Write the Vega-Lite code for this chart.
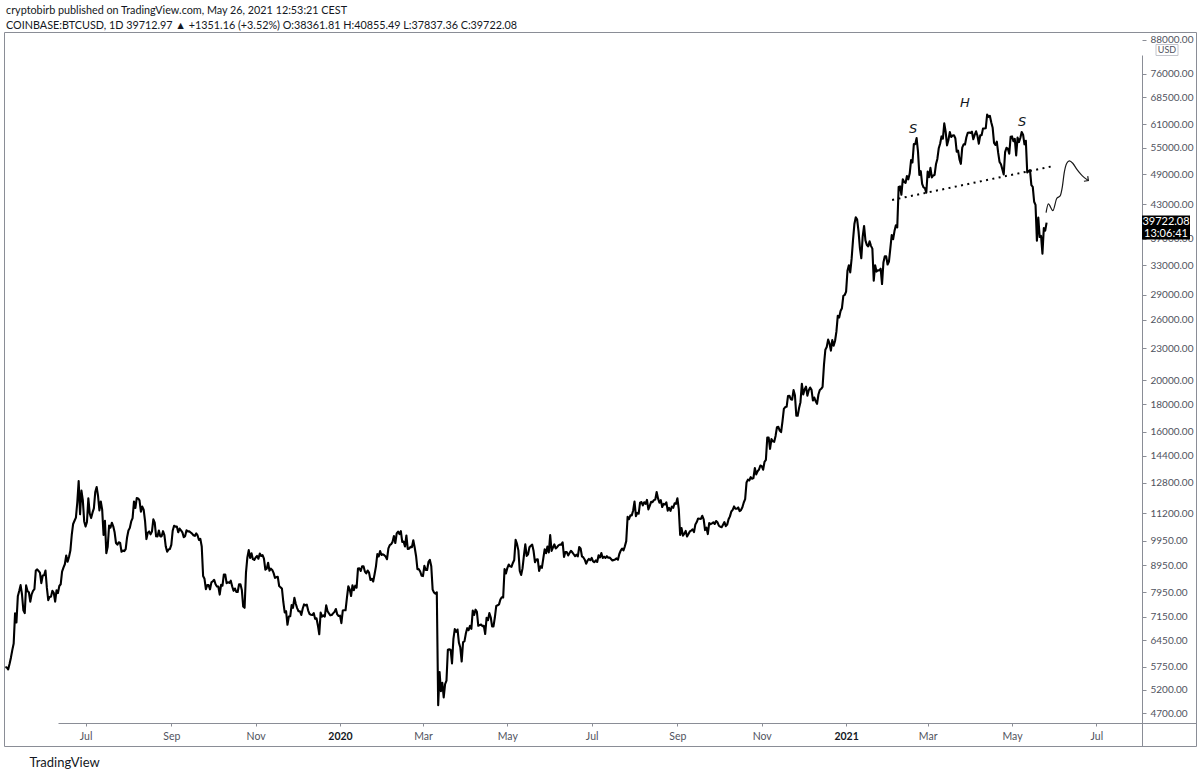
{
  "$schema": "https://vega.github.io/schema/vega-lite/v6.json",
  "width": 1192,
  "height": 714,
  "autosize": "none",
  "padding": {"left": 4, "top": 32, "right": 4, "bottom": 31},
  "background": "white",
  "config": {
    "font": "Lato",
    "view": {"stroke": "#8a8d96", "strokeWidth": 1}
  },
  "title": {
    "text": "cryptobirb published on TradingView.com, May 26, 2021 12:53:21 CEST",
    "subtitle": "COINBASE:BTCUSD, 1D  39712.97 ▲ +1351.16 (+3.52%) O:38361.81 H:40855.49 L:37837.36 C:39722.08",
    "anchor": "start",
    "frame": "group",
    "offset": 1,
    "dx": 2,
    "font": "Lato",
    "fontSize": 10.8,
    "fontWeight": "normal",
    "color": "#131722",
    "subtitleFont": "Lato",
    "subtitleFontSize": 10.8,
    "subtitleColor": "#131722",
    "subtitlePadding": 4
  },
  "datasets": {
    "btc": [
      {"t":"2019-05-04","c":5740},{"t":"2019-05-05","c":5730},{"t":"2019-05-06","c":5680},{"t":"2019-05-07","c":5820},{"t":"2019-05-08","c":5980},{"t":"2019-05-09","c":6180},{"t":"2019-05-10","c":6360},{"t":"2019-05-11","c":7250},{"t":"2019-05-12","c":6970},{"t":"2019-05-13","c":7810},{"t":"2019-05-14","c":7990},{"t":"2019-05-15","c":8200},{"t":"2019-05-16","c":7880},{"t":"2019-05-17","c":7350},{"t":"2019-05-18","c":7260},{"t":"2019-05-19","c":8190},{"t":"2019-05-20","c":7990},{"t":"2019-05-21","c":7950},{"t":"2019-05-22","c":7630},{"t":"2019-05-23","c":7880},{"t":"2019-05-24","c":8000},{"t":"2019-05-25","c":8060},{"t":"2019-05-26","c":8740},{"t":"2019-05-27","c":8780},{"t":"2019-05-28","c":8720},{"t":"2019-05-29","c":8660},{"t":"2019-05-30","c":8270},{"t":"2019-05-31","c":8550},
      {"t":"2019-06-01","c":8560},{"t":"2019-06-02","c":8740},{"t":"2019-06-03","c":8110},{"t":"2019-06-04","c":7680},{"t":"2019-06-05","c":7790},{"t":"2019-06-06","c":7800},{"t":"2019-06-07","c":8000},{"t":"2019-06-08","c":7930},{"t":"2019-06-09","c":7630},{"t":"2019-06-10","c":8020},{"t":"2019-06-11","c":7920},{"t":"2019-06-12","c":8170},{"t":"2019-06-13","c":8230},{"t":"2019-06-14","c":8700},{"t":"2019-06-15","c":8850},{"t":"2019-06-16","c":8980},{"t":"2019-06-17","c":9330},{"t":"2019-06-18","c":9080},{"t":"2019-06-19","c":9270},{"t":"2019-06-20","c":9530},{"t":"2019-06-21","c":10200},{"t":"2019-06-22","c":10700},{"t":"2019-06-23","c":10850},{"t":"2019-06-24","c":11000},{"t":"2019-06-25","c":11750},{"t":"2019-06-26","c":12900},{"t":"2019-06-27","c":11160},{"t":"2019-06-28","c":12370},{"t":"2019-06-29","c":11870},{"t":"2019-06-30","c":10820},
      {"t":"2019-07-01","c":10580},{"t":"2019-07-02","c":10800},{"t":"2019-07-03","c":11960},{"t":"2019-07-04","c":11200},{"t":"2019-07-05","c":10980},{"t":"2019-07-06","c":11240},{"t":"2019-07-07","c":11450},{"t":"2019-07-08","c":12300},{"t":"2019-07-09","c":12570},{"t":"2019-07-10","c":12100},{"t":"2019-07-11","c":11350},{"t":"2019-07-12","c":11800},{"t":"2019-07-13","c":11390},{"t":"2019-07-14","c":10200},{"t":"2019-07-15","c":10850},{"t":"2019-07-16","c":9420},{"t":"2019-07-17","c":9690},{"t":"2019-07-18","c":10630},{"t":"2019-07-19","c":10530},{"t":"2019-07-20","c":10760},{"t":"2019-07-21","c":10590},{"t":"2019-07-22","c":10320},{"t":"2019-07-23","c":9850},{"t":"2019-07-24","c":9780},{"t":"2019-07-25","c":9880},{"t":"2019-07-26","c":9850},{"t":"2019-07-27","c":9480},{"t":"2019-07-28","c":9530},{"t":"2019-07-29","c":9510},{"t":"2019-07-30","c":9590},{"t":"2019-07-31","c":10090},
      {"t":"2019-08-01","c":10400},{"t":"2019-08-02","c":10520},{"t":"2019-08-03","c":10820},{"t":"2019-08-04","c":10980},{"t":"2019-08-05","c":11800},{"t":"2019-08-06","c":11470},{"t":"2019-08-07","c":11980},{"t":"2019-08-08","c":11960},{"t":"2019-08-09","c":11860},{"t":"2019-08-10","c":11290},{"t":"2019-08-11","c":11540},{"t":"2019-08-12","c":11390},{"t":"2019-08-13","c":10850},{"t":"2019-08-14","c":10020},{"t":"2019-08-15","c":10300},{"t":"2019-08-16","c":10360},{"t":"2019-08-17","c":10230},{"t":"2019-08-18","c":10350},{"t":"2019-08-19","c":10920},{"t":"2019-08-20","c":10760},{"t":"2019-08-21","c":10140},{"t":"2019-08-22","c":10130},{"t":"2019-08-23","c":10400},{"t":"2019-08-24","c":10140},{"t":"2019-08-25","c":10140},{"t":"2019-08-26","c":10370},{"t":"2019-08-27","c":10190},{"t":"2019-08-28","c":9700},{"t":"2019-08-29","c":9480},{"t":"2019-08-30","c":9580},{"t":"2019-08-31","c":9600},
      {"t":"2019-09-01","c":9770},{"t":"2019-09-02","c":10390},{"t":"2019-09-03","c":10620},{"t":"2019-09-04","c":10580},{"t":"2019-09-05","c":10580},{"t":"2019-09-06","c":10320},{"t":"2019-09-07","c":10490},{"t":"2019-09-08","c":10410},{"t":"2019-09-09","c":10320},{"t":"2019-09-10","c":10100},{"t":"2019-09-11","c":10150},{"t":"2019-09-12","c":10410},{"t":"2019-09-13","c":10360},{"t":"2019-09-14","c":10360},{"t":"2019-09-15","c":10310},{"t":"2019-09-16","c":10260},{"t":"2019-09-17","c":10190},{"t":"2019-09-18","c":10160},{"t":"2019-09-19","c":10270},{"t":"2019-09-20","c":10180},{"t":"2019-09-21","c":9980},{"t":"2019-09-22","c":10030},{"t":"2019-09-23","c":9700},{"t":"2019-09-24","c":8530},{"t":"2019-09-25","c":8430},{"t":"2019-09-26","c":8060},{"t":"2019-09-27","c":8200},{"t":"2019-09-28","c":8200},{"t":"2019-09-29","c":8050},{"t":"2019-09-30","c":8300},
      {"t":"2019-10-01","c":8340},{"t":"2019-10-02","c":8390},{"t":"2019-10-03","c":8230},{"t":"2019-10-04","c":8150},{"t":"2019-10-05","c":8150},{"t":"2019-10-06","c":7870},{"t":"2019-10-07","c":8210},{"t":"2019-10-08","c":8180},{"t":"2019-10-09","c":8590},{"t":"2019-10-10","c":8590},{"t":"2019-10-11","c":8270},{"t":"2019-10-12","c":8300},{"t":"2019-10-13","c":8280},{"t":"2019-10-14","c":8360},{"t":"2019-10-15","c":8160},{"t":"2019-10-16","c":8000},{"t":"2019-10-17","c":8080},{"t":"2019-10-18","c":7960},{"t":"2019-10-19","c":7960},{"t":"2019-10-20","c":8230},{"t":"2019-10-21","c":8230},{"t":"2019-10-22","c":8030},{"t":"2019-10-23","c":7470},{"t":"2019-10-24","c":7430},{"t":"2019-10-25","c":8660},{"t":"2019-10-26","c":9250},{"t":"2019-10-27","c":9550},{"t":"2019-10-28","c":9230},{"t":"2019-10-29","c":9420},{"t":"2019-10-30","c":9180},{"t":"2019-10-31","c":9150},
      {"t":"2019-11-01","c":9250},{"t":"2019-11-02","c":9310},{"t":"2019-11-03","c":9200},{"t":"2019-11-04","c":9410},{"t":"2019-11-05","c":9310},{"t":"2019-11-06","c":9340},{"t":"2019-11-07","c":9200},{"t":"2019-11-08","c":8770},{"t":"2019-11-09","c":8810},{"t":"2019-11-10","c":9040},{"t":"2019-11-11","c":8730},{"t":"2019-11-12","c":8810},{"t":"2019-11-13","c":8760},{"t":"2019-11-14","c":8640},{"t":"2019-11-15","c":8460},{"t":"2019-11-16","c":8490},{"t":"2019-11-17","c":8500},{"t":"2019-11-18","c":8170},{"t":"2019-11-19","c":8120},{"t":"2019-11-20","c":8080},{"t":"2019-11-21","c":7620},{"t":"2019-11-22","c":7280},{"t":"2019-11-23","c":7320},{"t":"2019-11-24","c":6900},{"t":"2019-11-25","c":7150},{"t":"2019-11-26","c":7160},{"t":"2019-11-27","c":7520},{"t":"2019-11-28","c":7430},{"t":"2019-11-29","c":7760},{"t":"2019-11-30","c":7560},
      {"t":"2019-12-01","c":7420},{"t":"2019-12-02","c":7320},{"t":"2019-12-03","c":7320},{"t":"2019-12-04","c":7200},{"t":"2019-12-05","c":7400},{"t":"2019-12-06","c":7540},{"t":"2019-12-07","c":7510},{"t":"2019-12-08","c":7530},{"t":"2019-12-09","c":7340},{"t":"2019-12-10","c":7230},{"t":"2019-12-11","c":7210},{"t":"2019-12-12","c":7200},{"t":"2019-12-13","c":7260},{"t":"2019-12-14","c":7080},{"t":"2019-12-15","c":7100},{"t":"2019-12-16","c":6880},{"t":"2019-12-17","c":6620},{"t":"2019-12-18","c":7280},{"t":"2019-12-19","c":7150},{"t":"2019-12-20","c":7190},{"t":"2019-12-21","c":7150},{"t":"2019-12-22","c":7510},{"t":"2019-12-23","c":7320},{"t":"2019-12-24","c":7250},{"t":"2019-12-25","c":7190},{"t":"2019-12-26","c":7200},{"t":"2019-12-27","c":7250},{"t":"2019-12-28","c":7300},{"t":"2019-12-29","c":7390},{"t":"2019-12-30","c":7220},{"t":"2019-12-31","c":7170},
      {"t":"2020-01-01","c":7180},{"t":"2020-01-02","c":6950},{"t":"2020-01-03","c":7340},{"t":"2020-01-04","c":7350},{"t":"2020-01-05","c":7350},{"t":"2020-01-06","c":7760},{"t":"2020-01-07","c":8160},{"t":"2020-01-08","c":8050},{"t":"2020-01-09","c":7820},{"t":"2020-01-10","c":8190},{"t":"2020-01-11","c":8020},{"t":"2020-01-12","c":8180},{"t":"2020-01-13","c":8110},{"t":"2020-01-14","c":8810},{"t":"2020-01-15","c":8820},{"t":"2020-01-16","c":8720},{"t":"2020-01-17","c":8900},{"t":"2020-01-18","c":8900},{"t":"2020-01-19","c":8700},{"t":"2020-01-20","c":8630},{"t":"2020-01-21","c":8740},{"t":"2020-01-22","c":8660},{"t":"2020-01-23","c":8390},{"t":"2020-01-24","c":8430},{"t":"2020-01-25","c":8330},{"t":"2020-01-26","c":8600},{"t":"2020-01-27","c":8900},{"t":"2020-01-28","c":9390},{"t":"2020-01-29","c":9290},{"t":"2020-01-30","c":9510},{"t":"2020-01-31","c":9350},
      {"t":"2020-02-01","c":9380},{"t":"2020-02-02","c":9340},{"t":"2020-02-03","c":9290},{"t":"2020-02-04","c":9180},{"t":"2020-02-05","c":9620},{"t":"2020-02-06","c":9760},{"t":"2020-02-07","c":9800},{"t":"2020-02-08","c":9900},{"t":"2020-02-09","c":10150},{"t":"2020-02-10","c":9850},{"t":"2020-02-11","c":10270},{"t":"2020-02-12","c":10350},{"t":"2020-02-13","c":10240},{"t":"2020-02-14","c":10370},{"t":"2020-02-15","c":9900},{"t":"2020-02-16","c":9910},{"t":"2020-02-17","c":9700},{"t":"2020-02-18","c":10180},{"t":"2020-02-19","c":9600},{"t":"2020-02-20","c":9610},{"t":"2020-02-21","c":9690},{"t":"2020-02-22","c":9670},{"t":"2020-02-23","c":9970},{"t":"2020-02-24","c":9660},{"t":"2020-02-25","c":9310},{"t":"2020-02-26","c":8790},{"t":"2020-02-27","c":8790},{"t":"2020-02-28","c":8700},{"t":"2020-02-29","c":8540},
      {"t":"2020-03-01","c":8530},{"t":"2020-03-02","c":8920},{"t":"2020-03-03","c":8760},{"t":"2020-03-04","c":8760},{"t":"2020-03-05","c":9070},{"t":"2020-03-06","c":9150},{"t":"2020-03-07","c":8900},{"t":"2020-03-08","c":8040},{"t":"2020-03-09","c":7940},{"t":"2020-03-10","c":7900},{"t":"2020-03-11","c":7950},{"t":"2020-03-12","c":4860},{"t":"2020-03-13","c":5620},{"t":"2020-03-14","c":5170},{"t":"2020-03-15","c":5360},{"t":"2020-03-16","c":5030},{"t":"2020-03-17","c":5330},{"t":"2020-03-18","c":5410},{"t":"2020-03-19","c":6190},{"t":"2020-03-20","c":6200},{"t":"2020-03-21","c":6190},{"t":"2020-03-22","c":5830},{"t":"2020-03-23","c":6480},{"t":"2020-03-24","c":6770},{"t":"2020-03-25","c":6690},{"t":"2020-03-26","c":6760},{"t":"2020-03-27","c":6380},{"t":"2020-03-28","c":6250},{"t":"2020-03-29","c":5880},{"t":"2020-03-30","c":6400},{"t":"2020-03-31","c":6420},
      {"t":"2020-04-01","c":6640},{"t":"2020-04-02","c":6800},{"t":"2020-04-03","c":6740},{"t":"2020-04-04","c":6870},{"t":"2020-04-05","c":6780},{"t":"2020-04-06","c":7340},{"t":"2020-04-07","c":7200},{"t":"2020-04-08","c":7370},{"t":"2020-04-09","c":7300},{"t":"2020-04-10","c":6870},{"t":"2020-04-11","c":6890},{"t":"2020-04-12","c":6910},{"t":"2020-04-13","c":6860},{"t":"2020-04-14","c":6870},{"t":"2020-04-15","c":6630},{"t":"2020-04-16","c":7110},{"t":"2020-04-17","c":7040},{"t":"2020-04-18","c":7260},{"t":"2020-04-19","c":7130},{"t":"2020-04-20","c":6850},{"t":"2020-04-21","c":6850},{"t":"2020-04-22","c":7130},{"t":"2020-04-23","c":7490},{"t":"2020-04-24","c":7510},{"t":"2020-04-25","c":7540},{"t":"2020-04-26","c":7700},{"t":"2020-04-27","c":7780},{"t":"2020-04-28","c":7770},{"t":"2020-04-29","c":8790},{"t":"2020-04-30","c":8630},
      {"t":"2020-05-01","c":8830},{"t":"2020-05-02","c":8970},{"t":"2020-05-03","c":8900},{"t":"2020-05-04","c":8880},{"t":"2020-05-05","c":9030},{"t":"2020-05-06","c":9150},{"t":"2020-05-07","c":9990},{"t":"2020-05-08","c":9810},{"t":"2020-05-09","c":9540},{"t":"2020-05-10","c":8720},{"t":"2020-05-11","c":8570},{"t":"2020-05-12","c":8820},{"t":"2020-05-13","c":9320},{"t":"2020-05-14","c":9790},{"t":"2020-05-15","c":9310},{"t":"2020-05-16","c":9380},{"t":"2020-05-17","c":9670},{"t":"2020-05-18","c":9730},{"t":"2020-05-19","c":9780},{"t":"2020-05-20","c":9510},{"t":"2020-05-21","c":9060},{"t":"2020-05-22","c":9170},{"t":"2020-05-23","c":9180},{"t":"2020-05-24","c":8720},{"t":"2020-05-25","c":8900},{"t":"2020-05-26","c":8840},{"t":"2020-05-27","c":9200},{"t":"2020-05-28","c":9580},{"t":"2020-05-29","c":9420},{"t":"2020-05-30","c":9700},{"t":"2020-05-31","c":9450},
      {"t":"2020-06-01","c":10200},{"t":"2020-06-02","c":9520},{"t":"2020-06-03","c":9660},{"t":"2020-06-04","c":9790},{"t":"2020-06-05","c":9620},{"t":"2020-06-06","c":9670},{"t":"2020-06-07","c":9750},{"t":"2020-06-08","c":9780},{"t":"2020-06-09","c":9780},{"t":"2020-06-10","c":9880},{"t":"2020-06-11","c":9270},{"t":"2020-06-12","c":9470},{"t":"2020-06-13","c":9470},{"t":"2020-06-14","c":9330},{"t":"2020-06-15","c":9430},{"t":"2020-06-16","c":9520},{"t":"2020-06-17","c":9460},{"t":"2020-06-18","c":9380},{"t":"2020-06-19","c":9300},{"t":"2020-06-20","c":9360},{"t":"2020-06-21","c":9290},{"t":"2020-06-22","c":9680},{"t":"2020-06-23","c":9620},{"t":"2020-06-24","c":9290},{"t":"2020-06-25","c":9250},{"t":"2020-06-26","c":9160},{"t":"2020-06-27","c":9000},{"t":"2020-06-28","c":9120},{"t":"2020-06-29","c":9190},{"t":"2020-06-30","c":9140},
      {"t":"2020-07-01","c":9230},{"t":"2020-07-02","c":9090},{"t":"2020-07-03","c":9060},{"t":"2020-07-04","c":9130},{"t":"2020-07-05","c":9070},{"t":"2020-07-06","c":9340},{"t":"2020-07-07","c":9250},{"t":"2020-07-08","c":9430},{"t":"2020-07-09","c":9230},{"t":"2020-07-10","c":9280},{"t":"2020-07-11","c":9230},{"t":"2020-07-12","c":9300},{"t":"2020-07-13","c":9240},{"t":"2020-07-14","c":9250},{"t":"2020-07-15","c":9190},{"t":"2020-07-16","c":9130},{"t":"2020-07-17","c":9150},{"t":"2020-07-18","c":9170},{"t":"2020-07-19","c":9210},{"t":"2020-07-20","c":9160},{"t":"2020-07-21","c":9390},{"t":"2020-07-22","c":9530},{"t":"2020-07-23","c":9610},{"t":"2020-07-24","c":9540},{"t":"2020-07-25","c":9710},{"t":"2020-07-26","c":9930},{"t":"2020-07-27","c":11040},{"t":"2020-07-28","c":10930},{"t":"2020-07-29","c":11110},{"t":"2020-07-30","c":11110},{"t":"2020-07-31","c":11350},
      {"t":"2020-08-01","c":11800},{"t":"2020-08-02","c":11070},{"t":"2020-08-03","c":11230},{"t":"2020-08-04","c":11190},{"t":"2020-08-05","c":11740},{"t":"2020-08-06","c":11770},{"t":"2020-08-07","c":11600},{"t":"2020-08-08","c":11760},{"t":"2020-08-09","c":11680},{"t":"2020-08-10","c":11880},{"t":"2020-08-11","c":11400},{"t":"2020-08-12","c":11580},{"t":"2020-08-13","c":11780},{"t":"2020-08-14","c":11770},{"t":"2020-08-15","c":11870},{"t":"2020-08-16","c":11900},{"t":"2020-08-17","c":12300},{"t":"2020-08-18","c":11960},{"t":"2020-08-19","c":11740},{"t":"2020-08-20","c":11870},{"t":"2020-08-21","c":11520},{"t":"2020-08-22","c":11680},{"t":"2020-08-23","c":11650},{"t":"2020-08-24","c":11760},{"t":"2020-08-25","c":11340},{"t":"2020-08-26","c":11480},{"t":"2020-08-27","c":11330},{"t":"2020-08-28","c":11540},{"t":"2020-08-29","c":11480},{"t":"2020-08-30","c":11710},{"t":"2020-08-31","c":11680},
      {"t":"2020-09-01","c":11970},{"t":"2020-09-02","c":11410},{"t":"2020-09-03","c":10200},{"t":"2020-09-04","c":10510},{"t":"2020-09-05","c":10170},{"t":"2020-09-06","c":10260},{"t":"2020-09-07","c":10380},{"t":"2020-09-08","c":10130},{"t":"2020-09-09","c":10240},{"t":"2020-09-10","c":10360},{"t":"2020-09-11","c":10400},{"t":"2020-09-12","c":10450},{"t":"2020-09-13","c":10330},{"t":"2020-09-14","c":10680},{"t":"2020-09-15","c":10790},{"t":"2020-09-16","c":10960},{"t":"2020-09-17","c":10950},{"t":"2020-09-18","c":10940},{"t":"2020-09-19","c":11090},{"t":"2020-09-20","c":10920},{"t":"2020-09-21","c":10420},{"t":"2020-09-22","c":10530},{"t":"2020-09-23","c":10240},{"t":"2020-09-24","c":10740},{"t":"2020-09-25","c":10690},{"t":"2020-09-26","c":10730},{"t":"2020-09-27","c":10780},{"t":"2020-09-28","c":10700},{"t":"2020-09-29","c":10840},{"t":"2020-09-30","c":10780},
      {"t":"2020-10-01","c":10620},{"t":"2020-10-02","c":10570},{"t":"2020-10-03","c":10550},{"t":"2020-10-04","c":10670},{"t":"2020-10-05","c":10790},{"t":"2020-10-06","c":10600},{"t":"2020-10-07","c":10670},{"t":"2020-10-08","c":10920},{"t":"2020-10-09","c":11060},{"t":"2020-10-10","c":11300},{"t":"2020-10-11","c":11380},{"t":"2020-10-12","c":11550},{"t":"2020-10-13","c":11430},{"t":"2020-10-14","c":11430},{"t":"2020-10-15","c":11500},{"t":"2020-10-16","c":11320},{"t":"2020-10-17","c":11370},{"t":"2020-10-18","c":11510},{"t":"2020-10-19","c":11750},{"t":"2020-10-20","c":11920},{"t":"2020-10-21","c":12820},{"t":"2020-10-22","c":12980},{"t":"2020-10-23","c":12930},{"t":"2020-10-24","c":13120},{"t":"2020-10-25","c":13030},{"t":"2020-10-26","c":13070},{"t":"2020-10-27","c":13650},{"t":"2020-10-28","c":13280},{"t":"2020-10-29","c":13460},{"t":"2020-10-30","c":13560},{"t":"2020-10-31","c":13800},
      {"t":"2020-11-01","c":13760},{"t":"2020-11-02","c":13550},{"t":"2020-11-03","c":14020},{"t":"2020-11-04","c":14140},{"t":"2020-11-05","c":15590},{"t":"2020-11-06","c":15590},{"t":"2020-11-07","c":14840},{"t":"2020-11-08","c":15480},{"t":"2020-11-09","c":15330},{"t":"2020-11-10","c":15300},{"t":"2020-11-11","c":15700},{"t":"2020-11-12","c":16300},{"t":"2020-11-13","c":16330},{"t":"2020-11-14","c":16070},{"t":"2020-11-15","c":15960},{"t":"2020-11-16","c":16720},{"t":"2020-11-17","c":17660},{"t":"2020-11-18","c":17800},{"t":"2020-11-19","c":17820},{"t":"2020-11-20","c":18680},{"t":"2020-11-21","c":18700},{"t":"2020-11-22","c":18420},{"t":"2020-11-23","c":18380},{"t":"2020-11-24","c":19160},{"t":"2020-11-25","c":18740},{"t":"2020-11-26","c":17150},{"t":"2020-11-27","c":17140},{"t":"2020-11-28","c":17730},{"t":"2020-11-29","c":18180},{"t":"2020-11-30","c":19700},
      {"t":"2020-12-01","c":18800},{"t":"2020-12-02","c":19220},{"t":"2020-12-03","c":19450},{"t":"2020-12-04","c":18700},{"t":"2020-12-05","c":19150},{"t":"2020-12-06","c":19380},{"t":"2020-12-07","c":19180},{"t":"2020-12-08","c":18320},{"t":"2020-12-09","c":18550},{"t":"2020-12-10","c":18260},{"t":"2020-12-11","c":18050},{"t":"2020-12-12","c":18800},{"t":"2020-12-13","c":19170},{"t":"2020-12-14","c":19270},{"t":"2020-12-15","c":19440},{"t":"2020-12-16","c":21380},{"t":"2020-12-17","c":22840},{"t":"2020-12-18","c":23110},{"t":"2020-12-19","c":23870},{"t":"2020-12-20","c":23480},{"t":"2020-12-21","c":22750},{"t":"2020-12-22","c":23830},{"t":"2020-12-23","c":23240},{"t":"2020-12-24","c":23730},{"t":"2020-12-25","c":24710},{"t":"2020-12-26","c":26490},{"t":"2020-12-27","c":26280},{"t":"2020-12-28","c":27040},{"t":"2020-12-29","c":27370},{"t":"2020-12-30","c":28880},{"t":"2020-12-31","c":28990},
      {"t":"2021-01-01","c":29410},{"t":"2021-01-02","c":32200},{"t":"2021-01-03","c":33000},{"t":"2021-01-04","c":31990},{"t":"2021-01-05","c":33950},{"t":"2021-01-06","c":36800},{"t":"2021-01-07","c":39470},{"t":"2021-01-08","c":40670},{"t":"2021-01-09","c":40240},{"t":"2021-01-10","c":38240},{"t":"2021-01-11","c":35540},{"t":"2021-01-12","c":34010},{"t":"2021-01-13","c":37390},{"t":"2021-01-14","c":39150},{"t":"2021-01-15","c":36770},{"t":"2021-01-16","c":36030},{"t":"2021-01-17","c":35820},{"t":"2021-01-18","c":36630},{"t":"2021-01-19","c":35900},{"t":"2021-01-20","c":35470},{"t":"2021-01-21","c":30850},{"t":"2021-01-22","c":33000},{"t":"2021-01-23","c":32100},{"t":"2021-01-24","c":32290},{"t":"2021-01-25","c":32260},{"t":"2021-01-26","c":32500},{"t":"2021-01-27","c":30400},{"t":"2021-01-28","c":33400},{"t":"2021-01-29","c":34300},{"t":"2021-01-30","c":34300},{"t":"2021-01-31","c":33100},
      {"t":"2021-02-01","c":33540},{"t":"2021-02-02","c":35500},{"t":"2021-02-03","c":37640},{"t":"2021-02-04","c":36950},{"t":"2021-02-05","c":38290},{"t":"2021-02-06","c":39260},{"t":"2021-02-07","c":38900},{"t":"2021-02-08","c":46400},{"t":"2021-02-09","c":46500},{"t":"2021-02-10","c":44850},{"t":"2021-02-11","c":47970},{"t":"2021-02-12","c":47410},{"t":"2021-02-13","c":47200},{"t":"2021-02-14","c":48650},{"t":"2021-02-15","c":47950},{"t":"2021-02-16","c":49170},{"t":"2021-02-17","c":52150},{"t":"2021-02-18","c":51600},{"t":"2021-02-19","c":55900},{"t":"2021-02-20","c":55900},{"t":"2021-02-21","c":57400},{"t":"2021-02-22","c":54100},{"t":"2021-02-23","c":48900},{"t":"2021-02-24","c":49700},{"t":"2021-02-25","c":47000},{"t":"2021-02-26","c":46300},{"t":"2021-02-27","c":46150},{"t":"2021-02-28","c":45240},
      {"t":"2021-03-01","c":49600},{"t":"2021-03-02","c":48400},{"t":"2021-03-03","c":50400},{"t":"2021-03-04","c":48370},{"t":"2021-03-05","c":48770},{"t":"2021-03-06","c":48880},{"t":"2021-03-07","c":51200},{"t":"2021-03-08","c":52400},{"t":"2021-03-09","c":54900},{"t":"2021-03-10","c":56000},{"t":"2021-03-11","c":57800},{"t":"2021-03-12","c":57250},{"t":"2021-03-13","c":61200},{"t":"2021-03-14","c":59000},{"t":"2021-03-15","c":55600},{"t":"2021-03-16","c":56900},{"t":"2021-03-17","c":58900},{"t":"2021-03-18","c":57650},{"t":"2021-03-19","c":58050},{"t":"2021-03-20","c":58100},{"t":"2021-03-21","c":57350},{"t":"2021-03-22","c":54100},{"t":"2021-03-23","c":54350},{"t":"2021-03-24","c":52300},{"t":"2021-03-25","c":51300},{"t":"2021-03-26","c":55050},{"t":"2021-03-27","c":55850},{"t":"2021-03-28","c":55800},{"t":"2021-03-29","c":57600},{"t":"2021-03-30","c":58750},{"t":"2021-03-31","c":58800},
      {"t":"2021-04-01","c":58700},{"t":"2021-04-02","c":59000},{"t":"2021-04-03","c":57100},{"t":"2021-04-04","c":58200},{"t":"2021-04-05","c":59100},{"t":"2021-04-06","c":57970},{"t":"2021-04-07","c":56000},{"t":"2021-04-08","c":58080},{"t":"2021-04-09","c":58100},{"t":"2021-04-10","c":59800},{"t":"2021-04-11","c":59850},{"t":"2021-04-12","c":59900},{"t":"2021-04-13","c":63580},{"t":"2021-04-14","c":62960},{"t":"2021-04-15","c":63200},{"t":"2021-04-16","c":61400},{"t":"2021-04-17","c":60000},{"t":"2021-04-18","c":56200},{"t":"2021-04-19","c":55700},{"t":"2021-04-20","c":56500},{"t":"2021-04-21","c":53800},{"t":"2021-04-22","c":51700},{"t":"2021-04-23","c":51200},{"t":"2021-04-24","c":50100},{"t":"2021-04-25","c":49000},{"t":"2021-04-26","c":54000},{"t":"2021-04-27","c":55000},{"t":"2021-04-28","c":54800},{"t":"2021-04-29","c":53600},{"t":"2021-04-30","c":57700},
      {"t":"2021-05-01","c":57800},{"t":"2021-05-02","c":56600},{"t":"2021-05-03","c":57200},{"t":"2021-05-04","c":53200},{"t":"2021-05-05","c":57500},{"t":"2021-05-06","c":56400},{"t":"2021-05-07","c":57400},{"t":"2021-05-08","c":58900},{"t":"2021-05-09","c":58250},{"t":"2021-05-10","c":55850},{"t":"2021-05-11","c":56700},{"t":"2021-05-12","c":49400},{"t":"2021-05-13","c":49700},{"t":"2021-05-14","c":49900},{"t":"2021-05-15","c":46750},{"t":"2021-05-16","c":46400},{"t":"2021-05-17","c":43500},{"t":"2021-05-18","c":42900},{"t":"2021-05-19","c":36700},{"t":"2021-05-20","c":40600},{"t":"2021-05-21","c":37300},{"t":"2021-05-22","c":37500},{"t":"2021-05-23","c":34700},{"t":"2021-05-24","c":38800},{"t":"2021-05-25","c":38360},{"t":"2021-05-26","c":39722.08}
    ],
    "neckline": [
      {"t":"2021-02-03T07:00:00Z","c":43840,"t2":"2021-05-30T12:00:00Z","c2":50780}
    ],
    "sketch": [
      {"t":"2021-05-25T15:00:00Z","c":41500},{"t":"2021-05-27T07:00:00Z","c":43080},{"t":"2021-05-30T12:00:00Z","c":41850},{"t":"2021-06-02T10:00:00Z","c":44170},{"t":"2021-06-04T19:00:00Z","c":44620},{"t":"2021-06-06T10:00:00Z","c":46460},{"t":"2021-06-07T17:00:00Z","c":49250},{"t":"2021-06-09T14:00:00Z","c":51440},{"t":"2021-06-11T12:00:00Z","c":51960},{"t":"2021-06-13T22:00:00Z","c":51440},{"t":"2021-06-16T19:00:00Z","c":50120},{"t":"2021-06-19T17:00:00Z","c":49040},{"t":"2021-06-22T07:00:00Z","c":48320},{"t":"2021-06-25T05:00:00Z","c":47690}
    ],
    "sketchTip": [
      {"t":"2021-06-25T05:00:00Z","c":47690}
    ],
    "pattern": [
      {"t":"2021-02-18T12:00:00Z","c":59720,"s":"S"},
      {"t":"2021-03-28T00:00:00Z","c":66880,"s":"H"},
      {"t":"2021-05-08T07:00:00Z","c":61580,"s":"S"}
    ]
  },
  "encoding": {
    "x": {
      "field": "t",
      "type": "temporal",
      "scale": {
        "type": "utc",
        "domain": [{"year": 2019, "month": 5, "date": 3, "utc": true}, {"year": 2021, "month": 8, "date": 3, "utc": true}],
        "range": [0, 1138],
        "nice": false
      },
      "axis": {
        "orient": "bottom",
        "offset": -23,
        "title": "TradingView",
        "titleAnchor": "start",
        "titleAlign": "left",
        "titleBaseline": "alphabetic",
        "titleX": 25,
        "titleY": 43,
        "titleFont": "Lato",
        "titleFontSize": 13,
        "titleFontWeight": "normal",
        "titleColor": "#131722",
        "values": [
          {"year": 2019, "month": 7, "date": 1, "utc": true},
          {"year": 2019, "month": 9, "date": 1, "utc": true},
          {"year": 2019, "month": 11, "date": 1, "utc": true},
          {"year": 2020, "month": 1, "date": 1, "utc": true},
          {"year": 2020, "month": 3, "date": 1, "utc": true},
          {"year": 2020, "month": 5, "date": 1, "utc": true},
          {"year": 2020, "month": 7, "date": 1, "utc": true},
          {"year": 2020, "month": 9, "date": 1, "utc": true},
          {"year": 2020, "month": 11, "date": 1, "utc": true},
          {"year": 2021, "month": 1, "date": 1, "utc": true},
          {"year": 2021, "month": 3, "date": 1, "utc": true},
          {"year": 2021, "month": 5, "date": 1, "utc": true},
          {"year": 2021, "month": 7, "date": 1, "utc": true},
          {"year": 2021, "month": 8, "date": 3, "utc": true}
        ],
        "labelExpr": "utcmonth(datum.value) == 7 ? '' : (utcmonth(datum.value) == 0 ? utcFormat(datum.value, '%Y') : utcFormat(datum.value, '%b'))",
        "labelFontSize": 10.5,
        "labelFontWeight": {"condition": {"test": "utcmonth(datum.value) == 0", "value": "bold"}, "value": "normal"},
        "labelColor": {"condition": {"test": "utcmonth(datum.value) == 0", "value": "#131722"}, "value": "#50535e"},
        "labelPadding": 5,
        "labelFlush": false,
        "labelOverlap": false,
        "domain": false,
        "grid": true,
        "gridColor": "#8a8d96",
        "gridOpacity": {"condition": {"test": "utcmonth(datum.value) == 7", "value": 1}, "value": 0},
        "tickColor": "#8a8d96",
        "tickSize": 3,
        "tickOpacity": {"condition": {"test": "utcmonth(datum.value) == 7", "value": 0}, "value": 1}
      }
    },
    "y": {
      "field": "c",
      "type": "quantitative",
      "scale": {"type": "log", "domain": [4500, 91060], "range": [691, 0], "nice": false, "zero": false},
      "axis": {
        "orient": "right",
        "offset": -54,
        "title": null,
        "values": [4500, 4700, 5200, 5750, 6450, 7150, 7950, 8950, 9950, 11200, 12800, 14400, 16000, 18000, 20000, 23000, 26000, 29000, 33000, 37000, 43000, 49000, 55000, 61000, 68500, 76000, 88000],
        "labelExpr": "datum.value < 4600 ? '' : format(datum.value, '.2f')",
        "labelFontSize": 10,
        "labelColor": "#50535e",
        "labelPadding": 4,
        "labelFlush": false,
        "labelOverlap": false,
        "domain": false,
        "grid": true,
        "gridColor": "#8a8d96",
        "gridOpacity": {"condition": {"test": "datum.value < 4600", "value": 1}, "value": 0},
        "tickColor": "#8a8d96",
        "tickSize": 4,
        "tickOpacity": {"condition": {"test": "datum.value < 4600", "value": 0}, "value": 1}
      }
    }
  },
  "layer": [
    {
      "data": {"name": "btc"},
      "mark": {"type": "line", "stroke": "#000000", "strokeWidth": 2.1, "strokeJoin": "round"}
    },
    {
      "data": {"name": "neckline"},
      "mark": {"type": "rule", "stroke": "#000000", "strokeWidth": 2, "strokeDash": [2, 4.4], "strokeCap": "butt"},
      "encoding": {
        "x2": {"field": "t2"},
        "y2": {"field": "c2"}
      }
    },
    {
      "data": {"name": "sketch"},
      "mark": {"type": "line", "stroke": "#1a1a1a", "strokeWidth": 1.2, "interpolate": "monotone"}
    },
    {
      "data": {"name": "sketchTip"},
      "mark": {"type": "point", "shape": "M-1,-1L0,0L-1,1", "filled": false, "stroke": "#1a1a1a", "strokeWidth": 1.2, "size": 40, "angle": 37, "opacity": 1}
    },
    {
      "data": {"name": "pattern"},
      "mark": {"type": "text", "font": "DejaVu Sans", "fontSize": 13, "fontStyle": "italic", "color": "#131722", "align": "center", "baseline": "middle"},
      "encoding": {"text": {"field": "s"}}
    },
    {
      "data": {"name": "btc"},
      "transform": [
        {"joinaggregate": [{"op": "max", "field": "t", "as": "last"}]},
        {"filter": "time(datum.t) == time(datum.last)"}
      ],
      "layer": [
        {
          "mark": {"type": "point", "shape": "M-1,-0.5H1V0.5H-1Z", "size": 2304, "filled": true, "fill": "#000000", "strokeWidth": 0, "opacity": 1, "xOffset": 24, "yOffset": 5},
          "encoding": {"x": {"datum": {"year": 2021, "month": 8, "date": 3, "utc": true}, "type": "temporal"}}
        },
        {
          "mark": {"type": "text", "font": "Lato", "fontSize": 11, "color": "#ffffff", "align": "center", "baseline": "middle", "xOffset": 24, "dy": -1},
          "encoding": {
            "x": {"datum": {"year": 2021, "month": 8, "date": 3, "utc": true}, "type": "temporal"},
            "text": {"field": "c", "type": "quantitative", "format": ".2f"}
          }
        },
        {
          "mark": {"type": "text", "font": "Lato", "fontSize": 11, "color": "#ffffff", "align": "center", "baseline": "middle", "xOffset": 24, "dy": 11, "text": "13:06:41"},
          "encoding": {"x": {"datum": {"year": 2021, "month": 8, "date": 3, "utc": true}, "type": "temporal"}}
        },
        {
          "mark": {"type": "point", "shape": "M-1,-0.5H1V0.5H-1Z", "size": 484, "filled": true, "fill": "#ffffff", "stroke": "#c3c5cc", "strokeWidth": 1, "opacity": 1, "xOffset": 25},
          "encoding": {
            "x": {"datum": {"year": 2021, "month": 8, "date": 3, "utc": true}, "type": "temporal"},
            "y": {"datum": 84200, "type": "quantitative"}
          }
        },
        {
          "mark": {"type": "text", "font": "Lato", "fontSize": 9, "color": "#50535e", "align": "center", "baseline": "middle", "xOffset": 25, "text": "USD"},
          "encoding": {
            "x": {"datum": {"year": 2021, "month": 8, "date": 3, "utc": true}, "type": "temporal"},
            "y": {"datum": 84200, "type": "quantitative"}
          }
        }
      ]
    }
  ]
}
